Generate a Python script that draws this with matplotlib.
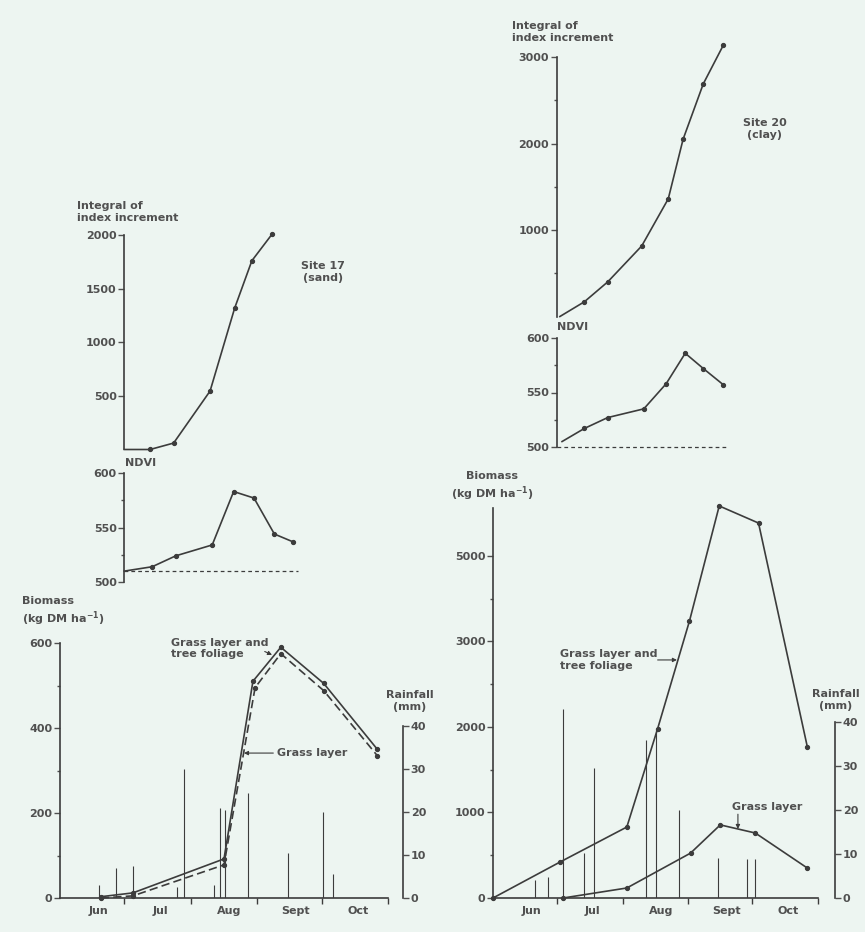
import matplotlib
matplotlib.use('Agg')
import matplotlib.pyplot as plt

# days counted from 1 June
months = ['Jun', 'Jul', 'Aug', 'Sept', 'Oct']
month_edges = [30, 61, 92, 122, 153]
month_mid = [18, 47, 79, 110, 139]

# Site 17 (sand)
int17_day = [30, 42, 53, 70, 81.5, 89.5, 99]
int17_val = [0, 0, 60, 545, 1320, 1760, 2010]
ndvi17_day = [30, 43, 54, 71, 81, 90.5, 100, 108.5]
ndvi17_val = [510, 514, 524, 534, 583, 577, 544, 537]
ndvi17_base = 510
bio17_tot_day = [19, 34, 76.5, 90, 103, 123, 148]
bio17_tot_val = [3, 12, 92, 510, 590, 505, 350]
bio17_grass_day = [19, 34, 76.5, 91, 103, 123, 148]
bio17_grass_val = [0, 5, 78, 495, 575, 488, 335]
rain17_day = [18, 26, 34, 54.5, 58, 72, 74.5, 77, 87.5, 106.5, 122.5, 127.5]
rain17_mm = [3, 7, 7.5, 2.5, 30, 3, 21, 20.5, 24.5, 10.5, 20, 5.5]

# Site 20 (clay)
int20_day = [31.5, 43, 54, 70, 82.5, 89.5, 99, 108.5]
int20_val = [0, 170, 400, 815, 1360, 2050, 2690, 3140]
ndvi20_day = [32.5, 43, 54, 71, 81.5, 90.5, 99, 108.5]
ndvi20_val = [505, 517, 527, 535, 558, 586, 572, 557]
ndvi20_base = 500
bio20_tot_day = [0, 31.5, 63, 77.5, 92.5, 106.5, 125, 148]
bio20_tot_val = [0, 420, 830, 1980, 3240, 4585, 4385, 1765]
bio20_grass_day = [33, 63, 93, 107, 123.5, 148]
bio20_grass_val = [0, 117, 525, 855, 760, 350]
rain20_day = [20, 26, 33, 43, 47.5, 72, 76.5, 87.5, 106, 119.5, 123.5]
rain20_mm = [4, 4.8, 43, 10.2, 29.5, 36, 38.5, 20, 9, 8.8, 8.8]

W, H = 865, 932
BG = '#edf5f1'
TXT = '#505050'
LINE = '#3c3c3c'
FS = 8
plt.rcParams['font.family'] = ['DejaVu Sans']
plt.rcParams['font.size'] = FS
plt.rcParams['font.weight'] = 'bold'
plt.rcParams['mathtext.default'] = 'bf'

fig = plt.figure(figsize=(W / 100, H / 100), dpi=100, facecolor=BG)


def px_box(x0, y0, x1, y1):
    return [x0 / W, 1 - y1 / H, (x1 - x0) / W, (y1 - y0) / H]


def ftext(x, y, s, **kw):
    kw.setdefault('color', TXT)
    kw.setdefault('fontsize', FS)
    kw.setdefault('va', 'center')
    kw.setdefault('linespacing', 1.25)
    fig.text(x / W, 1 - y / H, s, **kw)


def style_y(ax, ticks, minor=(), labels=None):
    ax.set_yticks(ticks)
    if labels is not None:
        ax.set_yticklabels(labels)
    ax.set_yticks(list(minor), minor=True)
    ax.tick_params(axis='y', which='major', direction='out', length=4, width=1,
                   pad=1.5, labelsize=FS, colors=TXT)
    ax.tick_params(axis='y', which='minor', direction='out', length=2.5, width=1, colors=TXT)


def upper_axis(box, ylim, ticks, minor=()):
    ax = fig.add_axes(box, facecolor='none')
    ax.set_xlim(0, 153)
    ax.set_ylim(*ylim)
    for s in ['top', 'right', 'bottom']:
        ax.spines[s].set_visible(False)
    ax.spines['left'].set_position(('data', 30))
    ax.spines['left'].set_color(LINE)
    ax.spines['left'].set_linewidth(1.2)
    ax.set_xticks([])
    style_y(ax, ticks, minor)
    return ax


def series(ax, x, y, ls='-', first=1):
    ax.plot(x, y, color=LINE, lw=1.2, ls=ls, marker='o', ms=2.8,
            markevery=slice(first, None), clip_on=False)


def biomass_axis(box, ylim, rain_top, rain_out, ticks, minor, labels=None):
    ax = fig.add_axes(box, facecolor='none')
    ax.set_xlim(0, 153)
    ax.set_ylim(*ylim)
    for s in ['top', 'right']:
        ax.spines[s].set_visible(False)
    for s in ['left', 'bottom']:
        ax.spines[s].set_color(LINE)
        ax.spines[s].set_linewidth(1.2)
    style_y(ax, ticks, minor, labels)
    ax.set_xticks(month_edges)
    ax.set_xticklabels([''] * len(month_edges))
    ax.set_xticks(month_mid, minor=True)
    ax.set_xticklabels(months, minor=True)
    ax.tick_params(axis='x', which='major', direction='out', length=4, width=1, colors=LINE)
    ax.tick_params(axis='x', which='minor', length=0, pad=6, labelsize=FS, colors=TXT)

    rx = ax.twinx()
    rx.set_ylim(0, rain_top)
    for s in ['top', 'left', 'bottom']:
        rx.spines[s].set_visible(False)
    rx.spines['right'].set_position(('outward', rain_out * 0.72))
    rx.spines['right'].set_bounds(0, 40)
    rx.spines['right'].set_color(LINE)
    rx.spines['right'].set_linewidth(1.2)
    rx.set_yticks([0, 10, 20, 30, 40])
    rx.tick_params(axis='y', direction='out', length=4, width=1, pad=1.5,
                   labelsize=FS, colors=TXT)
    return ax, rx


def arrow(ax, xy, xytext):
    ax.annotate('', xy=xy, xytext=xytext,
                arrowprops=dict(arrowstyle='-|>', color=LINE, lw=0.8,
                                mutation_scale=6, shrinkA=0, shrinkB=0))


# ---------------- left column: site 17 ----------------
ax = upper_axis(px_box(60, 235, 388, 449.5), (0, 2000), [500, 1000, 1500, 2000])
series(ax, int17_day, int17_val)

ax = upper_axis(px_box(60, 473, 388, 582), (500, 600), [500, 550, 600], [525, 575])
series(ax, ndvi17_day, ndvi17_val)
ax.plot([30, 111], [ndvi17_base, ndvi17_base], color=LINE, lw=0.9,
        ls=(0, (3, 2.5)), clip_on=False)

ax, rx = biomass_axis(px_box(60, 643, 388, 898), (0, 600), (898 - 643) / 4.3, 15,
                      [0, 200, 400, 600], [100, 300, 500])
rx.vlines(rain17_day, 0, rain17_mm, color=LINE, lw=0.8)
series(ax, bio17_tot_day, bio17_tot_val, first=0)
series(ax, bio17_grass_day, bio17_grass_val, ls=(0, (5, 2.5)), first=0)
ax.text(52, 588, 'Grass layer and\ntree foliage', color=TXT, fontsize=FS,
        va='center', ha='left', linespacing=1.15)
arrow(ax, (98.9, 572), (95.5, 580))
ax.text(101, 341, 'Grass layer', color=TXT, fontsize=FS, va='center', ha='left')
arrow(ax, (85.8, 341), (99.5, 341))

ftext(77, 212, 'Integral of\nindex increment', ha='left')
ftext(323, 272, 'Site 17\n(sand)', ha='center')
ftext(125, 463, 'NDVI', ha='left')
ftext(22, 612, 'Biomass\n(kg DM ha$^{-1}$)', ha='left')
ftext(410, 701, 'Rainfall\n(mm)', ha='center')

# ---------------- right column: site 20 ----------------
ax = upper_axis(px_box(493, 57, 818, 316.5), (0, 3000), [1000, 2000, 3000], [500, 1500, 2500])
series(ax, int20_day, int20_val)

ax = upper_axis(px_box(493, 338, 818, 447), (500, 600), [500, 550, 600], [525, 575])
series(ax, ndvi20_day, ndvi20_val)
ax.plot([30, 110.5], [ndvi20_base, ndvi20_base], color=LINE, lw=0.9,
        ls=(0, (3, 2.5)), clip_on=False)

ax, rx = biomass_axis(px_box(493, 508, 818, 898), (0, 4561), 390 / 4.4, 17,
                      [0, 1000, 2000, 3000, 4000], [500, 1500, 2500, 3500],
                      labels=['0', '1000', '2000', '3000', '5000'])
rx.vlines(rain20_day, 0, rain20_mm, color=LINE, lw=0.8)
series(ax, bio20_tot_day, bio20_tot_val, first=0)
series(ax, bio20_grass_day, bio20_grass_val, first=0)
ax.text(31.5, 2784, 'Grass layer and\ntree foliage', color=TXT, fontsize=FS,
        va='center', ha='left', linespacing=1.15)
arrow(ax, (86.6, 2784), (77.5, 2784))
ax.text(129, 1064, 'Grass layer', color=TXT, fontsize=FS, va='center', ha='center')
arrow(ax, (115.3, 807), (115.3, 980))

ftext(512, 32, 'Integral of\nindex increment', ha='left')
ftext(765, 129, 'Site 20\n(clay)', ha='center')
ftext(557, 327, 'NDVI', ha='left')
ftext(492, 487, 'Biomass\n(kg DM ha$^{-1}$)', ha='center')
ftext(836, 700, 'Rainfall\n(mm)', ha='center')

fig.savefig('out.png', dpi=100, facecolor=BG)
